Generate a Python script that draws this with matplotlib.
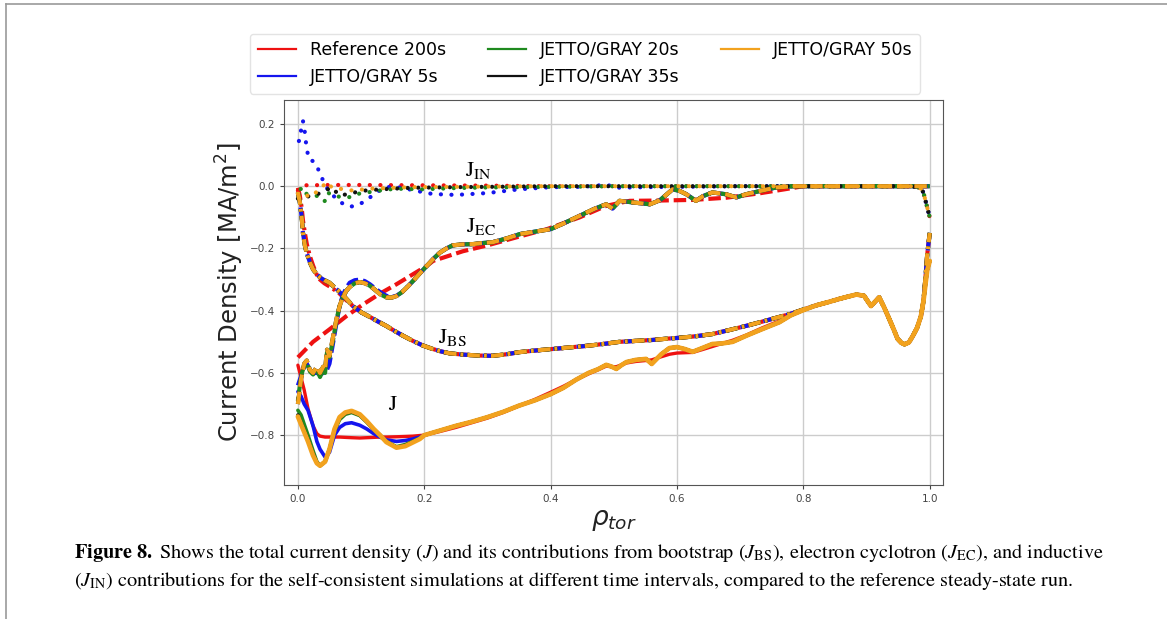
import numpy as np
import matplotlib
matplotlib.use("Agg")
import matplotlib.pyplot as plt
from matplotlib.lines import Line2D

plt.rcParams["lines.scale_dashes"] = False

# series names / colours
labels = ["Reference 200s", "JETTO/GRAY 5s", "JETTO/GRAY 20s", "JETTO/GRAY 35s", "JETTO/GRAY 50s"]
colors = ["#ee1111", "#1515ee", "#1f8a1f", "#111111", "#f2a21e"]

# ---- total current J ----
rho_J_core = [0, 0.005, 0.01, 0.016, 0.024, 0.03, 0.035, 0.043, 0.05, 0.058, 0.066,
              0.075, 0.085, 0.098, 0.109, 0.12, 0.13, 0.14, 0.156, 0.17, 0.182, 0.193]
J_ref_core = [-0.575, -0.615, -0.655, -0.715, -0.77, -0.795, -0.803, -0.806, -0.806, -0.806, -0.806,
              -0.807, -0.808, -0.809, -0.808, -0.807, -0.806, -0.806, -0.805, -0.804, -0.803, -0.801]
J_5s_core = [-0.66, -0.675, -0.70, -0.72, -0.77, -0.82, -0.845, -0.87, -0.855, -0.80, -0.775,
             -0.763, -0.76, -0.768, -0.78, -0.795, -0.806, -0.815, -0.82, -0.817, -0.812, -0.806]
J_20s_core = [-0.72, -0.735, -0.765, -0.80, -0.85, -0.885, -0.898, -0.885, -0.845, -0.785, -0.75,
              -0.733, -0.727, -0.737, -0.758, -0.782, -0.80, -0.82, -0.837, -0.83, -0.82, -0.81]
J_35s_core = [-0.735, -0.76, -0.785, -0.815, -0.86, -0.888, -0.898, -0.885, -0.845, -0.782, -0.745,
              -0.729, -0.724, -0.735, -0.757, -0.781, -0.80, -0.821, -0.839, -0.833, -0.822, -0.811]
J_50s_core = [-0.74, -0.765, -0.79, -0.82, -0.865, -0.89, -0.898, -0.885, -0.845, -0.78, -0.742,
              -0.727, -0.722, -0.733, -0.755, -0.78, -0.80, -0.822, -0.84, -0.835, -0.823, -0.812]

rho_J_outer = [0.2, 0.225, 0.25, 0.275, 0.3, 0.325, 0.35, 0.375, 0.4, 0.42, 0.44, 0.46, 0.475,
               0.488, 0.497, 0.504, 0.512, 0.52, 0.535, 0.551, 0.56, 0.575, 0.588, 0.6, 0.612,
               0.625, 0.64, 0.656, 0.672, 0.688, 0.71, 0.735, 0.762, 0.78, 0.8, 0.82, 0.84,
               0.857, 0.87, 0.884, 0.896, 0.907, 0.92, 0.928, 0.936, 0.943, 0.949, 0.955, 0.96,
               0.967, 0.973, 0.98, 0.986, 0.99, 0.993, 0.996, 1.0]
J_sim_outer = [-0.80, -0.785, -0.77, -0.757, -0.742, -0.725, -0.705, -0.688, -0.668, -0.648,
               -0.622, -0.60, -0.588, -0.574, -0.58, -0.587, -0.575, -0.565, -0.558, -0.555,
               -0.571, -0.54, -0.52, -0.517, -0.523, -0.532, -0.52, -0.507, -0.505, -0.50,
               -0.48, -0.459, -0.437, -0.415, -0.398, -0.383, -0.372, -0.362, -0.355, -0.348,
               -0.352, -0.385, -0.357, -0.39, -0.427, -0.46, -0.49, -0.503, -0.508, -0.502,
               -0.482, -0.455, -0.418, -0.37, -0.32, -0.27, -0.24]
J_ref_outer = [-0.80, -0.788, -0.775, -0.76, -0.745, -0.727, -0.706, -0.685, -0.662, -0.643,
               -0.622, -0.603, -0.59, -0.578, -0.58, -0.58, -0.574, -0.568, -0.563, -0.56,
               -0.558, -0.548, -0.54, -0.536, -0.535, -0.534, -0.525, -0.515, -0.505, -0.495,
               -0.478, -0.455, -0.433, -0.415, -0.398, -0.383, -0.372, -0.362, -0.355, -0.348,
               -0.352, -0.385, -0.357, -0.39, -0.427, -0.46, -0.49, -0.503, -0.508, -0.502,
               -0.482, -0.455, -0.418, -0.37, -0.32, -0.27, -0.24]

# ---- bootstrap J_BS ----
rho_BS_core = [0, 0.003, 0.006, 0.008, 0.011, 0.014, 0.019, 0.024, 0.03, 0.035, 0.042,
               0.05, 0.058, 0.066, 0.076, 0.087, 0.1]
BS_ref_core = [-0.005, -0.03, -0.07, -0.11, -0.15, -0.185, -0.225, -0.255, -0.285, -0.30, -0.312,
               -0.322, -0.333, -0.345, -0.365, -0.385, -0.405]
BS_sim_core = [-0.02, -0.05, -0.1, -0.15, -0.19, -0.215, -0.245, -0.267, -0.283, -0.293, -0.302,
               -0.31, -0.325, -0.34, -0.36, -0.385, -0.405]
rho_BS_outer = [0.114, 0.127, 0.14, 0.153, 0.166, 0.182, 0.198, 0.212, 0.225, 0.24, 0.261, 0.285,
                0.308, 0.33, 0.351, 0.375, 0.403, 0.43, 0.457, 0.483, 0.509, 0.535, 0.561, 0.583,
                0.604, 0.63, 0.656, 0.683, 0.709, 0.735, 0.762, 0.78, 0.8, 0.82, 0.84, 0.857,
                0.87, 0.884, 0.896, 0.907, 0.92, 0.928, 0.936, 0.943, 0.949, 0.955, 0.96, 0.967,
                0.973, 0.98, 0.986, 0.99, 0.993, 0.996, 1.0]
BS_outer = [-0.42, -0.435, -0.449, -0.465, -0.48, -0.497, -0.512, -0.522, -0.53, -0.537, -0.541,
            -0.544, -0.545, -0.54, -0.533, -0.528, -0.523, -0.518, -0.513, -0.507, -0.50, -0.497,
            -0.494, -0.49, -0.487, -0.482, -0.475, -0.462, -0.449, -0.435, -0.42, -0.41, -0.396,
            -0.383, -0.372, -0.362, -0.355, -0.348, -0.352, -0.385, -0.357, -0.39, -0.427, -0.46,
            -0.49, -0.503, -0.508, -0.502, -0.482, -0.455, -0.418, -0.37, -0.30, -0.22, -0.15]

# ---- electron cyclotron J_EC ----
rho_EC_ref = [0, 0.024, 0.05, 0.077, 0.103, 0.13, 0.156, 0.182, 0.204, 0.214, 0.261, 0.3, 0.35,
              0.394, 0.446, 0.488, 0.525, 0.572, 0.625, 0.678, 0.73, 0.77, 0.8, 0.9, 1.0]
EC_ref = [-0.55, -0.50, -0.46, -0.417, -0.38, -0.345, -0.315, -0.283, -0.256, -0.24, -0.209,
          -0.19, -0.162, -0.138, -0.10, -0.063, -0.047, -0.046, -0.044, -0.037, -0.023, -0.01,
          0.0, 0.0, 0.0]
rho_EC_core = [0, 0.005, 0.01, 0.014, 0.019, 0.024, 0.03, 0.035, 0.04, 0.043, 0.046, 0.05, 0.056,
               0.061, 0.066, 0.071, 0.077, 0.082, 0.09, 0.098, 0.106, 0.114, 0.122, 0.13, 0.14,
               0.148, 0.156, 0.165, 0.175, 0.182, 0.193]
EC_5s_core = [-0.64, -0.61, -0.58, -0.57, -0.59, -0.60, -0.60, -0.605, -0.60, -0.60, -0.59, -0.57,
              -0.50, -0.44, -0.385, -0.35, -0.325, -0.31, -0.302, -0.30, -0.305, -0.315, -0.328,
              -0.34, -0.352, -0.356, -0.352, -0.34, -0.32, -0.305, -0.28]
EC_20s_core = [-0.69, -0.61, -0.575, -0.565, -0.595, -0.605, -0.59, -0.613, -0.59, -0.60, -0.535,
               -0.55, -0.49, -0.43, -0.385, -0.357, -0.335, -0.324, -0.312, -0.308, -0.312, -0.32,
               -0.333, -0.347, -0.357, -0.358, -0.353, -0.34, -0.32, -0.305, -0.28]
EC_50s_core = [-0.70, -0.62, -0.57, -0.56, -0.59, -0.60, -0.58, -0.60, -0.58, -0.59, -0.525,
               -0.545, -0.48, -0.427, -0.385, -0.357, -0.335, -0.324, -0.312, -0.308, -0.312,
               -0.32, -0.333, -0.347, -0.357, -0.358, -0.353, -0.34, -0.32, -0.305, -0.28]
rho_EC_outer = [0.204, 0.215, 0.225, 0.235, 0.245, 0.26, 0.277, 0.29, 0.308, 0.33, 0.351, 0.375,
                0.4, 0.42, 0.446, 0.47, 0.488, 0.498, 0.509, 0.53, 0.557, 0.573, 0.593, 0.604,
                0.615, 0.63, 0.641, 0.656, 0.678, 0.694, 0.709, 0.73, 0.757, 0.784, 0.8, 0.9,
                0.97, 0.985, 1.0]
EC_outer = [-0.256, -0.232, -0.213, -0.20, -0.19, -0.187, -0.186, -0.183, -0.18, -0.168, -0.154,
            -0.146, -0.138, -0.12, -0.095, -0.072, -0.058, -0.072, -0.047, -0.052, -0.058, -0.045,
            -0.01, -0.015, -0.026, -0.047, -0.032, -0.02, -0.026, -0.036, -0.026, -0.016, -0.004,
            0.0, 0.0, 0.0, 0.0, 0.0, 0.0]

# ---- inductive J_IN ----
rho_IN_ref = [0, 0.005, 0.01, 0.05, 0.1, 0.2, 0.3, 0.4, 0.5, 0.6, 0.7, 0.8, 0.9, 0.97, 0.985,
              0.99, 0.995, 1.0]
IN_ref = [-0.014, -0.003, 0.003, 0.004, 0.004, 0.003, 0.002, 0.0, 0.0, 0.0, 0.0, 0.0, 0.0, 0.0,
          -0.005, -0.02, -0.06, -0.1]
rho_IN_5s = [0, 0.003, 0.005, 0.008, 0.01, 0.012, 0.013, 0.017, 0.026, 0.032, 0.037, 0.042, 0.05,
             0.061, 0.071, 0.083, 0.097, 0.108, 0.118, 0.129, 0.145, 0.166, 0.18, 0.213, 0.25,
             0.3, 0.35, 0.4, 0.45, 0.49, 0.5, 0.55, 0.6, 0.65, 0.7, 0.8, 0.9, 0.97, 0.985, 0.99,
             0.995, 1.0]
IN_5s = [0.134, 0.155, 0.18, 0.21, 0.186, 0.16, 0.134, 0.088, 0.078, 0.055, 0.032, 0.007, -0.019,
         -0.04, -0.056, -0.066, -0.059, -0.045, -0.03, -0.014, -0.002, -0.005, -0.012, -0.025,
         -0.028, -0.022, -0.01, -0.003, -0.002, 0.005, -0.005, -0.003, -0.002, -0.001, 0.0, 0.0,
         0.0, 0.0, -0.005, -0.02, -0.06, -0.1]
rho_IN_20s = [0, 0.004, 0.008, 0.013, 0.02, 0.029, 0.036, 0.042, 0.047, 0.055, 0.063, 0.071,
              0.084, 0.097, 0.113, 0.129, 0.155, 0.197, 0.25, 0.3, 0.4, 0.5, 0.6, 0.7, 0.8, 0.9,
              0.97, 0.985, 0.99, 0.995, 1.0]
IN_20s = [-0.03, -0.01, -0.003, -0.024, -0.028, -0.03, -0.04, -0.05, -0.02, -0.03, -0.033,
          -0.035, -0.035, -0.024, -0.019, -0.014, -0.008, -0.01, -0.006, -0.004, -0.002, 0.0,
          0.0, 0.0, 0.0, 0.0, 0.0, -0.005, -0.02, -0.06, -0.1]
rho_IN_35s = [0, 0.01, 0.024, 0.04, 0.053, 0.066, 0.08, 0.1, 0.13, 0.18, 0.25, 0.3, 0.4, 0.5,
              0.6, 0.7, 0.8, 0.9, 0.97, 0.985, 0.99, 0.995, 1.0]
IN_35s = [-0.04, -0.035, -0.03, -0.019, -0.003, -0.03, -0.025, -0.015, -0.01, -0.005, -0.003,
          -0.002, 0.0, 0.0, 0.0, 0.0, 0.0, 0.0, 0.0, -0.005, -0.02, -0.06, -0.1]
rho_IN_50s = [0, 0.008, 0.018, 0.026, 0.037, 0.047, 0.053, 0.066, 0.087, 0.113, 0.139, 0.18, 0.25,
              0.3, 0.4, 0.5, 0.6, 0.7, 0.8, 0.9, 0.97, 0.985, 0.99, 0.995, 1.0]
IN_50s = [-0.024, -0.02, -0.035, -0.025, -0.003, 0.013, -0.003, -0.008, -0.014, -0.008, -0.006,
          -0.003, -0.002, -0.001, 0.0, 0.0, 0.0, 0.0, 0.0, 0.0, 0.0, -0.005, -0.02, -0.06, -0.1]

# assemble per series: (J, BS, EC, IN) as (x, y) pairs
series = [
    ((rho_J_core + rho_J_outer, J_ref_core + J_ref_outer),
     (rho_BS_core + rho_BS_outer, BS_ref_core + BS_outer),
     (rho_EC_ref, EC_ref),
     (rho_IN_ref, IN_ref)),
    ((rho_J_core + rho_J_outer, J_5s_core + J_sim_outer),
     (rho_BS_core + rho_BS_outer, BS_sim_core + BS_outer),
     (rho_EC_core + rho_EC_outer, EC_5s_core + EC_outer),
     (rho_IN_5s, IN_5s)),
    ((rho_J_core + rho_J_outer, J_20s_core + J_sim_outer),
     (rho_BS_core + rho_BS_outer, BS_sim_core + BS_outer),
     (rho_EC_core + rho_EC_outer, EC_20s_core + EC_outer),
     (rho_IN_20s, IN_20s)),
    ((rho_J_core + rho_J_outer, J_35s_core + J_sim_outer),
     (rho_BS_core + rho_BS_outer, BS_sim_core + BS_outer),
     (rho_EC_core + rho_EC_outer, EC_50s_core + EC_outer),
     (rho_IN_35s, IN_35s)),
    ((rho_J_core + rho_J_outer, J_50s_core + J_sim_outer),
     (rho_BS_core + rho_BS_outer, BS_sim_core + BS_outer),
     (rho_EC_core + rho_EC_outer, EC_50s_core + EC_outer),
     (rho_IN_50s, IN_50s)),
]

fig = plt.figure(figsize=(11.67, 6.19), dpi=100)
ax = fig.add_axes([284 / 1167, 1 - 485 / 619, 659 / 1167, 385 / 619])

widths = [2.4, 2.6, 2.6, 2.6, 3.4]
bs_off = [0, 6, 0, 0, 0]       # dash phase, so the under-lying runs peek through
ec_off = [0, 0, 6, 0, 0]
dot_off = [0, 5, 2.5, 0, 0]
for k in range(5):
    c = colors[k]
    lw = widths[k]
    (xj, yj), (xb, yb), (xe, ye), (xi, yi) = series[k]
    ax.plot(xj, yj, color=c, lw=lw, solid_capstyle="round", zorder=2 + k)
    ax.plot(xb, yb, color=c, lw=3.0, linestyle=(bs_off[k], (9, 3, 2, 3)), zorder=2 + k)
    ax.plot(xe, ye, color=c, lw=3.0, linestyle=(ec_off[k], (9, 3.5)), zorder=2 + k)
    ax.plot(xi, yi, color=c, lw=3.0, linestyle=(dot_off[k], (0.1, 7.5)),
            dash_capstyle="round", zorder=2 + k)

ax.set_xlim(-0.022, 1.021)
ax.set_ylim(-0.96, 0.277)
ax.set_xticks([0.0, 0.2, 0.4, 0.6, 0.8, 1.0])
ax.set_yticks([-0.8, -0.6, -0.4, -0.2, 0.0, 0.2])
ax.grid(True, color="#cccccc", lw=1.0)
ax.set_axisbelow(True)
ax.tick_params(labelsize=7.5, colors="#444444", length=3)
for s in ax.spines.values():
    s.set_color("#555555")

ax.set_ylabel("Current Density [MA/m$^2$]", fontsize=17.5, color="#222222", labelpad=3)
ax.set_xlabel(r"$\rho_{tor}$", fontsize=19, color="#222222", labelpad=2)

tfs = 16
ax.text(0.285, 0.052, r"$\mathrm{J}_{\mathrm{IN}}$", fontsize=tfs, math_fontfamily="stix",
        ha="center", va="center")
ax.text(0.29, -0.128, r"$\mathrm{J}_{\mathrm{EC}}$", fontsize=tfs, math_fontfamily="stix",
        ha="center", va="center")
ax.text(0.245, -0.485, r"$\mathrm{J}_{\mathrm{BS}}$", fontsize=tfs, math_fontfamily="stix",
        ha="center", va="center")
ax.text(0.15, -0.70, r"$\mathrm{J}$", fontsize=tfs, math_fontfamily="stix",
        ha="center", va="center")

handles = [Line2D([], [], color=c, lw=1.6) for c in colors]
ax.legend(handles, labels, ncol=3, loc="upper center", bbox_to_anchor=(0.457, 1.195),
          fontsize=12.5, frameon=True, edgecolor="#dddddd", handlelength=2.2,
          columnspacing=2.4, borderpad=0.45, labelspacing=0.5)

# frame lines of the page
fig.add_artist(Line2D([6 / 1167, 1], [1 - 4 / 619, 1 - 4 / 619], color="#999999", lw=1.2))
fig.add_artist(Line2D([6 / 1167, 6 / 1167], [0, 1 - 4 / 619], color="#999999", lw=1.2))

cap1 = (r"$\mathbf{Figure\ 8.}$ Shows the total current density ($J$) and its contributions from "
        r"bootstrap ($J_{\mathrm{BS}}$), electron cyclotron ($J_{\mathrm{EC}}$), and inductive")
cap2 = (r"($J_{\mathrm{IN}}$) contributions for the self-consistent simulations at different "
        r"time intervals, compared to the reference steady-state run.")
fig.text(74 / 1167, 1 - 553 / 619, cap1, fontsize=14.6, family="STIXGeneral",
         math_fontfamily="stix", va="center", ha="left")
fig.text(74 / 1167, 1 - 581 / 619, cap2, fontsize=14.6, family="STIXGeneral",
         math_fontfamily="stix", va="center", ha="left")

fig.savefig("out.png", dpi=100)
